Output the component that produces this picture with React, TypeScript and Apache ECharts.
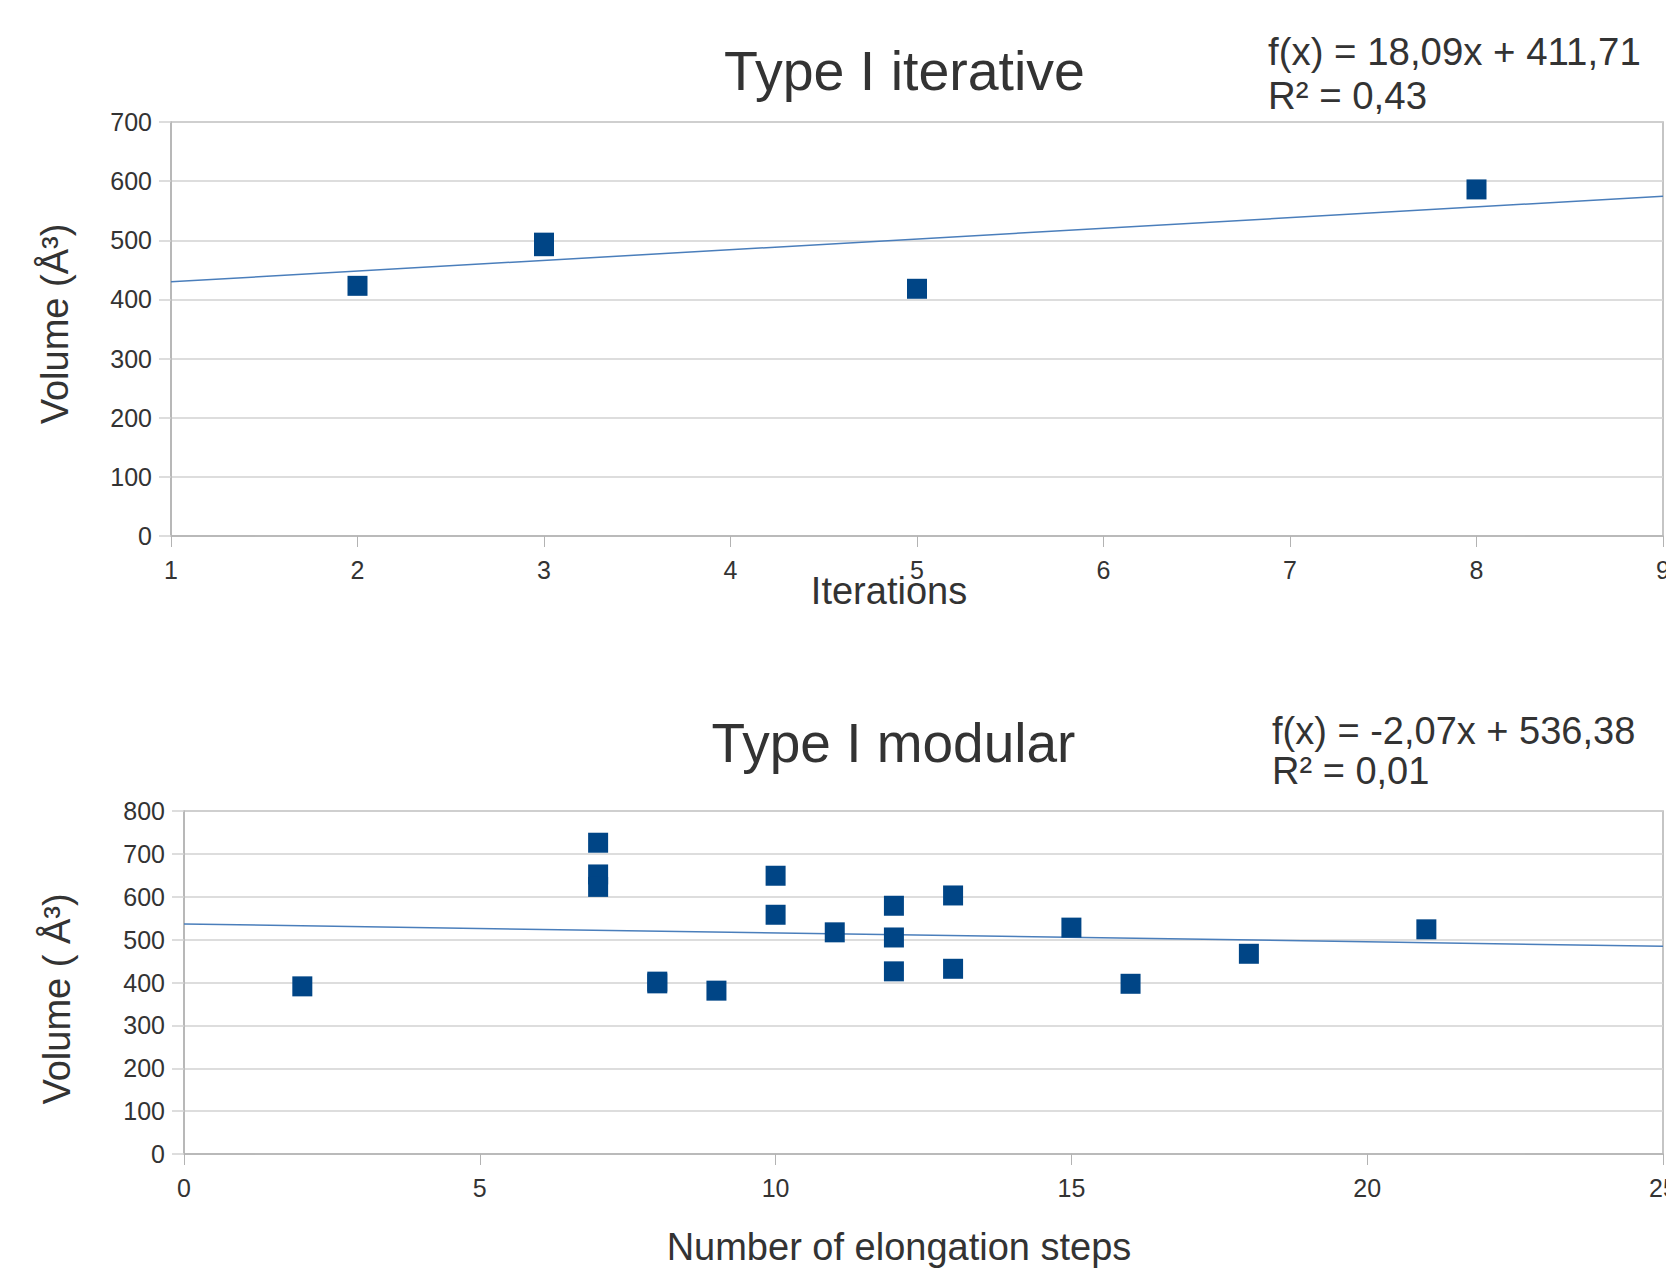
import React, { useEffect, useRef } from "react";
import * as echarts from "echarts";

// ---- Data: Type I iterative ----
const iterX = [2, 3, 3, 5, 8];
const iterY = [423, 490, 496, 418, 586];
const iterTrend = [18.09, 411.71]; // slope, intercept
const iterR2 = 0.43;
const iterXRange = [1, 9];
const iterYRange = [0, 700];

// ---- Data: Type I modular ----
const modX = [2, 7, 7, 7, 8, 8, 9, 10, 10, 11, 12, 12, 12, 13, 13, 15, 16, 18, 21];
const modY = [391, 726, 652, 623, 398, 402, 381, 649, 558, 517, 579, 505, 426, 603, 432, 528, 397, 467, 524];
const modTrend = [-2.07, 536.38];
const modR2 = 0.01;
const modXRange = [0, 25];
const modYRange = [0, 800];

const titles = ["Type I iterative", "Type I modular"];
const xNames = ["Iterations", "Number of elongation steps"];
const yNames = ["Volume (Å³)", "Volume ( Å³)"];

const FONT = "'Liberation Sans', Arial, sans-serif";
const TEXT = "#333333";
const MARKER = "#004586";
const TREND = "#4a7ebb";
const GRIDLINE = "#d2d2d2";
const AXISLINE = "#b3b3b3";

const fmt = (v: number) => v.toFixed(2).replace(".", ",");
const eqText = (t: number[]) => `f(x) = ${fmt(t[0])}x + ${fmt(t[1])}`;
const r2Text = (r: number) => `R² = ${fmt(r)}`;

const trendLine = (t: number[], range: number[]) =>
  range.map((x) => [x, t[0] * x + t[1]]);

function txt(text: string, x: number, y: number, size: number, align = "center", rotation = 0) {
  return {
    type: "text",
    x,
    y,
    rotation,
    silent: true,
    style: {
      text,
      fill: TEXT,
      font: `${size}px ${FONT}`,
      fontSize: size,
      fontFamily: FONT,
      align,
      textAlign: align,
      verticalAlign: "middle",
      textVerticalAlign: "middle",
    },
  };
}

function xAxisCfg(gridIndex: number, range: number[], interval: number) {
  return {
    type: "value",
    gridIndex,
    min: range[0],
    max: range[1],
    interval,
    axisLine: { show: true, onZero: false, lineStyle: { color: AXISLINE, width: 1.5 } },
    axisTick: { show: true, length: 11, lineStyle: { color: AXISLINE, width: 1 } },
    axisLabel: { color: TEXT, fontSize: 25, fontFamily: FONT, margin: 21, hideOverlap: false },
    splitLine: { show: false },
  };
}

function yAxisCfg(gridIndex: number, range: number[], interval: number) {
  return {
    type: "value",
    gridIndex,
    min: range[0],
    max: range[1],
    interval,
    axisLine: { show: true, onZero: false, lineStyle: { color: AXISLINE, width: 1.5 } },
    axisTick: { show: true, length: 12, lineStyle: { color: GRIDLINE, width: 1.5 } },
    axisLabel: { color: TEXT, fontSize: 25, fontFamily: FONT, margin: 19 },
    splitLine: { show: true, lineStyle: { color: GRIDLINE, width: 1.5 } },
  };
}

export default function App() {
  const ref = useRef<HTMLDivElement>(null);

  useEffect(() => {
    if (!ref.current) return;
    const chart = echarts.init(ref.current, undefined, { renderer: "svg" });
    const option = {
      animation: false,
      backgroundColor: "#ffffff",
      grid: [
        {
          left: 171, top: 122, width: 1492, height: 414,
          containLabel: false, outerBoundsMode: "none",
          show: true, borderColor: AXISLINE, borderWidth: 1.5, backgroundColor: "transparent",
        },
        {
          left: 184, top: 811, width: 1479, height: 343,
          containLabel: false, outerBoundsMode: "none",
          show: true, borderColor: AXISLINE, borderWidth: 1.5, backgroundColor: "transparent",
        },
      ],
      xAxis: [xAxisCfg(0, iterXRange, 1), xAxisCfg(1, modXRange, 5)],
      yAxis: [yAxisCfg(0, iterYRange, 100), yAxisCfg(1, modYRange, 100)],
      series: [
        {
          type: "line",
          xAxisIndex: 0,
          yAxisIndex: 0,
          data: trendLine(iterTrend, iterXRange),
          showSymbol: false,
          lineStyle: { color: TREND, width: 1.5 },
          z: 2,
        },
        {
          type: "scatter",
          xAxisIndex: 0,
          yAxisIndex: 0,
          data: iterX.map((x, i) => [x, iterY[i]]),
          symbol: "rect",
          symbolSize: 20,
          itemStyle: { color: MARKER, opacity: 1 },
          z: 3,
        },
        {
          type: "line",
          xAxisIndex: 1,
          yAxisIndex: 1,
          data: trendLine(modTrend, modXRange),
          showSymbol: false,
          lineStyle: { color: TREND, width: 1.5 },
          z: 2,
        },
        {
          type: "scatter",
          xAxisIndex: 1,
          yAxisIndex: 1,
          data: modX.map((x, i) => [x, modY[i]]),
          symbol: "rect",
          symbolSize: 20,
          itemStyle: { color: MARKER, opacity: 1 },
          z: 3,
        },
      ],
      graphic: [
        txt(titles[0], 904.5, 70.5, 55.5),
        txt(eqText(iterTrend), 1268, 51, 38.4, "left"),
        txt(r2Text(iterR2), 1268, 95, 38.4, "left"),
        txt(xNames[0], 889, 591, 38),
        txt(yNames[0], 55, 324, 38, "center", Math.PI / 2),
        txt(titles[1], 893.5, 742.5, 55),
        txt(eqText(modTrend), 1272, 731, 38, "left"),
        txt(r2Text(modR2), 1272, 771, 38, "left"),
        txt(xNames[1], 899, 1247, 38),
        txt(yNames[1], 57, 999, 38, "center", Math.PI / 2),
      ],
    };
    chart.setOption(option as any);
    return () => chart.dispose();
  }, []);

  return (
    <div
      ref={ref}
      style={{ position: "fixed", left: 0, top: 0, width: 1666, height: 1276, background: "#fff" }}
    />
  );
}
